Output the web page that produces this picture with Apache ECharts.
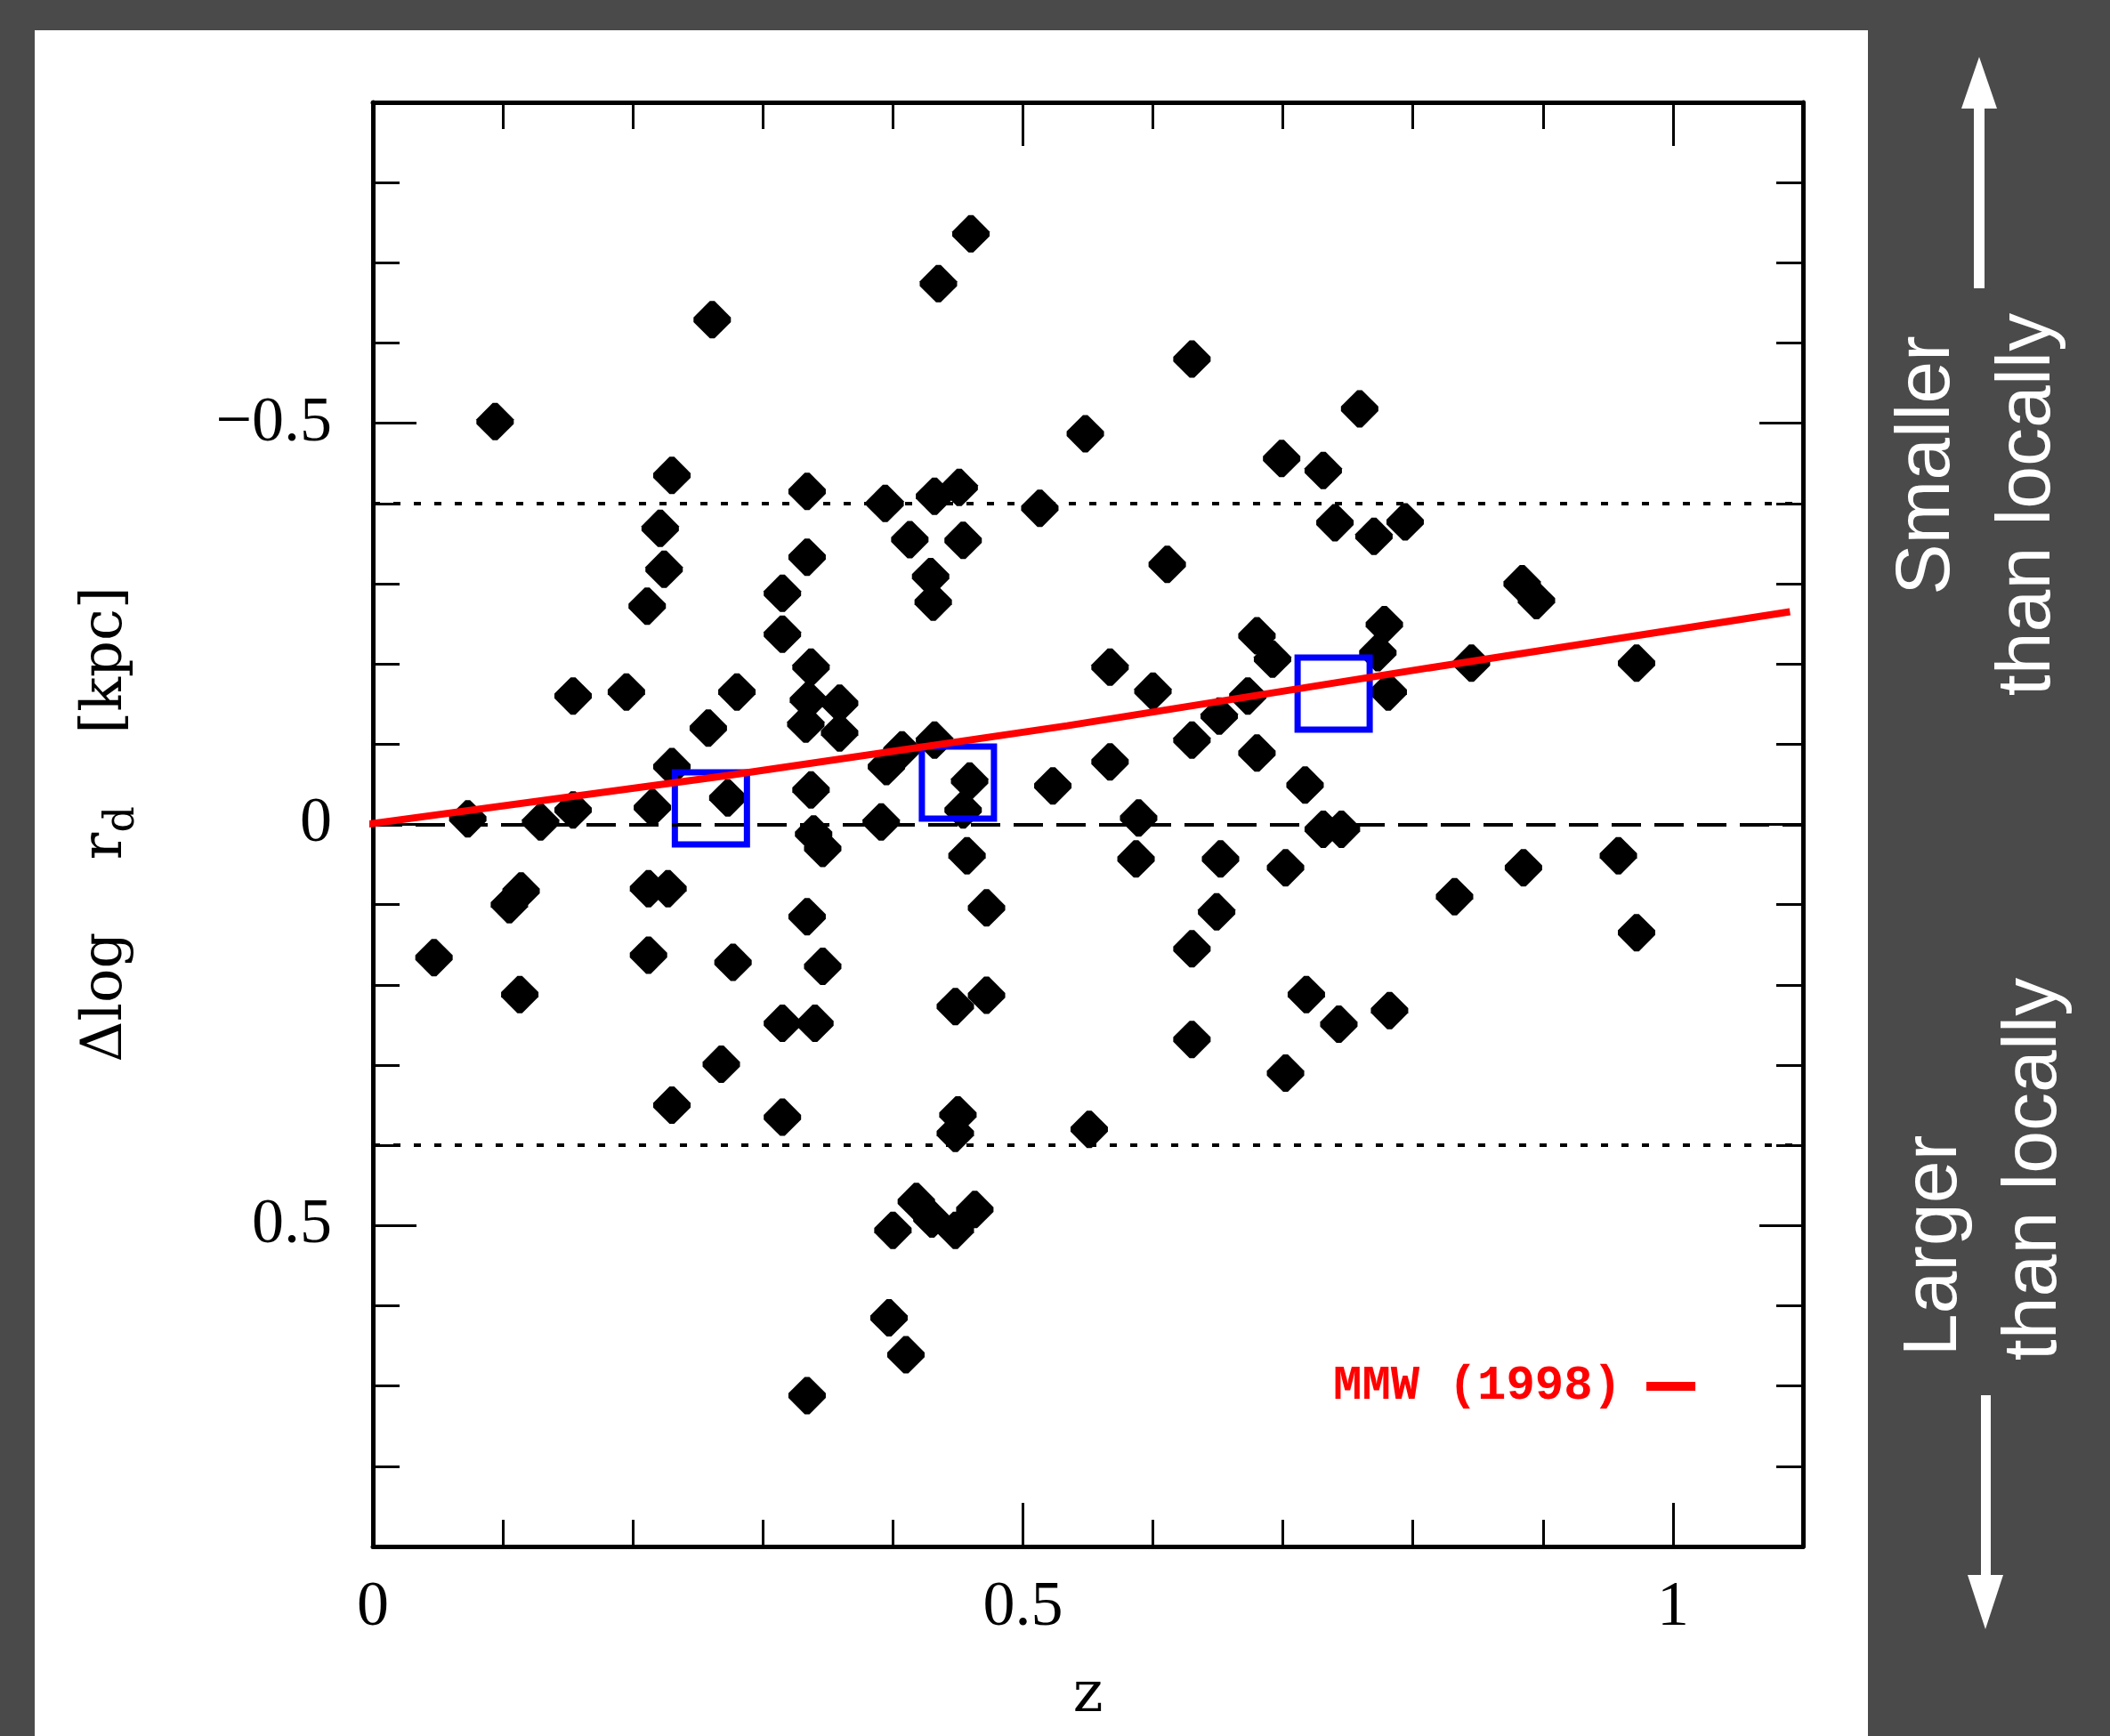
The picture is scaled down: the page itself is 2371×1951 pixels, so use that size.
<!DOCTYPE html>
<html>
<head>
<meta charset="utf-8">
<script src="https://cdn.jsdelivr.net/npm/echarts@6/dist/echarts.min.js"></script>
<style>
html,body{margin:0;padding:0;background:#4a4a4a;}
#c{width:2371px;height:1951px;}
</style>
</head>
<body>
<div id="c"></div>
<script>
// ---- data ----
const zValues = [
  0.094,0.261,0.460,0.435,0.548,0.230,0.334,0.394,0.432,0.451,0.513,0.221,0.334,0.413,0.454,0.224,0.429,0.431,0.211,0.315,
  0.315,0.337,0.154,0.195,0.280,0.258,0.335,0.359,0.333,0.359,0.230,0.432,0.407,0.395,0.459,0.454,0.523,0.337,0.273,0.215,
  0.154,0.073,0.129,0.391,
  0.339,0.346,0.457,0.114,0.105,0.212,0.227,0.472,0.334,0.047,0.212,0.277,0.346,0.113,0.448,0.472,0.315,0.340,0.268,0.230,
  0.315,0.450,0.448,0.551,0.400,0.418,0.430,0.448,0.463,0.397,0.410,0.334,
  0.630,0.759,0.699,0.731,0.740,0.770,0.794,0.611,0.884,0.895,0.778,0.773,0.781,0.680,0.692,0.567,0.600,0.845,0.972,0.673,
  0.651,0.630,0.567,0.680,0.717,0.589,0.731,0.745,
  0.587,0.652,0.702,0.649,0.630,0.832,0.885,0.958,0.972,0.718,0.743,0.782,0.630,0.702
];
const dlogValues = [
  -0.502,-0.629,-0.736,-0.674,-0.487,-0.435,-0.415,-0.400,-0.409,-0.420,-0.394,-0.369,-0.333,-0.355,-0.354,-0.318,-0.309,-0.277,-0.272,-0.288,
  -0.237,-0.196,-0.160,-0.165,-0.165,-0.120,-0.155,-0.151,-0.125,-0.114,-0.072,-0.105,-0.093,-0.072,-0.054,-0.018,-0.048,-0.043,-0.033,-0.021,
  -0.018,-0.007,-0.003,-0.003,
  0.012,0.030,0.039,0.083,0.100,0.080,0.080,0.104,0.115,0.166,0.163,0.172,0.177,0.212,0.227,0.213,0.248,0.248,0.299,0.350,
  0.365,0.362,0.385,0.380,0.506,0.470,0.492,0.506,0.480,0.615,0.661,0.712,
  -0.580,-0.518,-0.456,-0.441,-0.376,-0.359,-0.377,-0.324,-0.300,-0.279,-0.249,-0.214,-0.165,-0.235,-0.206,-0.196,-0.166,-0.201,-0.201,-0.160,
  -0.135,-0.105,-0.078,-0.089,-0.049,-0.008,0.006,0.006,
  0.043,0.043,0.054,0.109,0.155,0.090,0.054,0.039,0.135,0.212,0.249,0.232,0.268,0.310
];
const binZ = [0.260, 0.450, 0.739];
const binDlog = [-0.020, -0.052, -0.163];
const mmwZ = [-0.005, 0.273, 0.534, 0.812, 1.09];
const mmwDlog = [0, -0.061, -0.123, -0.195, -0.265];
const refLevels = [-0.4, 0, 0.4];
const xMinorTicks = [0.1,0.2,0.3,0.4,0.5,0.6,0.7,0.8,0.9,1.0];
const xMajorTicks = [0.5, 1.0];
const xTickLabels = [0, 0.5, 1];
const yMinorTicks = [-0.8,-0.7,-0.6,-0.5,-0.4,-0.3,-0.2,-0.1,0,0.1,0.2,0.3,0.4,0.5,0.6,0.7,0.8];
const yMajorTicks = [-0.5, 0, 0.5];
const yTickLabels = [-0.5, 0, 0.5];
const legendName = 'MMW (1998)';

// ---- build ----
const pts = zValues.map((z, i) => [z, dlogValues[i]]);
const bins = binZ.map((z, i) => [z, binDlog[i]]);
const mmw = mmwZ.map((z, i) => [z, mmwDlog[i]]);

const fmt = v => (v < 0 ? '\u2212' + Math.abs(v) : String(v));
const tickFont = { color: '#000', fontFamily: 'Liberation Serif', fontSize: 72 };

function xAx(pos, ticks, len, line, labels) {
  return {
    type: 'value', position: pos, min: 0, max: 1.1,
    axisLine: { show: line, onZero: false, lineStyle: { color: '#000', width: 5 } },
    axisTick: { show: true, inside: true, length: len, customValues: ticks, lineStyle: { color: '#000', width: 3 } },
    axisLabel: labels ? Object.assign({ show: true, customValues: labels, formatter: fmt, margin: 33 }, tickFont) : { show: false },
    splitLine: { show: false }
  };
}
function yAx(pos, ticks, len, line, labels) {
  return {
    type: 'value', position: pos, min: -0.9, max: 0.9, inverse: true,
    axisLine: { show: line, onZero: false, lineStyle: { color: '#000', width: 5 } },
    axisTick: { show: true, inside: true, length: len, customValues: ticks, lineStyle: { color: '#000', width: 3 } },
    axisLabel: labels ? Object.assign({ show: true, customValues: labels, formatter: fmt, margin: 46 }, tickFont) : { show: false },
    splitLine: { show: false }
  };
}

const xAxes = [
  xAx('bottom', xMinorTicks, 30, true, xTickLabels),
  xAx('bottom', xMajorTicks, 49, false, null),
  xAx('top', xMinorTicks, 30, true, null),
  xAx('top', xMajorTicks, 49, false, null)
];
xAxes[0].name = 'z';
xAxes[0].nameLocation = 'middle';
xAxes[0].nameGap = 136;
xAxes[0].nameTextStyle = { color: '#000', fontFamily: 'DejaVu Serif', fontSize: 64 };

const yAxes = [
  yAx('left', yMinorTicks, 30, true, yTickLabels),
  yAx('left', yMajorTicks, 49, false, null),
  yAx('right', yMinorTicks, 30, true, null),
  yAx('right', yMajorTicks, 49, false, null)
];
yAxes[0].name = '{a|\u0394log    r}{s|d}{a|    [kpc]}';
yAxes[0].nameLocation = 'middle';
yAxes[0].nameRotate = 90;
yAxes[0].nameGap = 258;
yAxes[0].nameTextStyle = {
  color: '#000', fontFamily: 'DejaVu Serif', fontSize: 64,
  rich: {
    a: { color: '#000', fontFamily: 'DejaVu Serif', fontSize: 64 },
    s: { color: '#000', fontFamily: 'DejaVu Serif', fontSize: 46, padding: [38, 0, 0, 0] }
  }
};

const dark = '#4a4a4a';
const option = {
  animation: false,
  backgroundColor: '#ffffff',
  grid: { left: 419, right: 345, top: 115, bottom: 213, containLabel: false, outerBoundsMode: 'none' },
  xAxis: xAxes,
  yAxis: yAxes,
  legend: {
    data: [{ name: legendName, icon: 'rect', itemStyle: { color: '#ff0000' } }],
    left: 1498, top: 1531, padding: 0, align: 'right', selectedMode: false,
    itemWidth: 55, itemHeight: 10,
    textStyle: { color: '#ff0000', fontFamily: 'Liberation Mono', fontWeight: 'bold', fontSize: 54, padding: [0, 23, 0, 0] }
  },
  series: [
    {
      type: 'line', data: [], z: 1, silent: true,
      markLine: {
        symbol: 'none', silent: true, label: { show: false },
        data: refLevels.map(v => ({ yAxis: v, lineStyle: { color: '#000', width: 4, type: v === 0 ? [33, 15] : [8, 15] } }))
      }
    },
    {
      type: 'scatter', data: pts, z: 3,
      symbol: 'path://M7 0 L9 0 L16 7 L16 9 L9 16 L7 16 L0 9 L0 7 Z',
      symbolSize: 42,
      itemStyle: { color: '#000', opacity: 1 }
    },
    {
      type: 'scatter', data: bins, z: 4,
      symbol: 'rect', symbolSize: 81,
      itemStyle: { color: 'rgba(0,0,0,0)', borderColor: '#0000ff', borderWidth: 7, opacity: 1 }
    },
    {
      name: legendName, type: 'line', data: mmw, z: 5, clip: false,
      showSymbol: false, symbol: 'none',
      lineStyle: { color: '#ff0000', width: 8 },
      itemStyle: { color: '#ff0000' }
    }
  ],
  graphic: [
    { type: 'rect', shape: { x: 0, y: 0, width: 2371, height: 34 }, style: { fill: dark }, silent: true },
    { type: 'rect', shape: { x: 0, y: 0, width: 39, height: 1951 }, style: { fill: dark }, silent: true },
    { type: 'rect', shape: { x: 2099, y: 0, width: 272, height: 1951 }, style: { fill: dark }, silent: true },
    { type: 'text', x: 2166, y: 523, rotation: Math.PI / 2,
      style: { text: 'Smaller', fill: '#fff', fontSize: 86, fontFamily: 'Liberation Sans', align: 'center', verticalAlign: 'middle' } },
    { type: 'text', x: 2279, y: 567, rotation: Math.PI / 2,
      style: { text: 'than locally', fill: '#fff', fontSize: 86, fontFamily: 'Liberation Sans', align: 'center', verticalAlign: 'middle' } },
    { type: 'text', x: 2174, y: 1400, rotation: Math.PI / 2,
      style: { text: 'Larger', fill: '#fff', fontSize: 86, fontFamily: 'Liberation Sans', align: 'center', verticalAlign: 'middle' } },
    { type: 'text', x: 2286, y: 1314, rotation: Math.PI / 2,
      style: { text: 'than locally', fill: '#fff', fontSize: 86, fontFamily: 'Liberation Sans', align: 'center', verticalAlign: 'middle' } },
    { type: 'rect', shape: { x: 2218, y: 118, width: 12, height: 206 }, style: { fill: '#fff' } },
    { type: 'polygon', shape: { points: [[2224, 64], [2244, 122], [2204, 122]] }, style: { fill: '#fff' } },
    { type: 'rect', shape: { x: 2226, y: 1568, width: 11, height: 206 }, style: { fill: '#fff' } },
    { type: 'polygon', shape: { points: [[2211, 1770], [2251, 1770], [2231, 1831]] }, style: { fill: '#fff' } }
  ]
};

const chart = echarts.init(document.getElementById('c'), null, { renderer: 'canvas', width: 2371, height: 1951 });
chart.setOption(option);
</script>
</body>
</html>
